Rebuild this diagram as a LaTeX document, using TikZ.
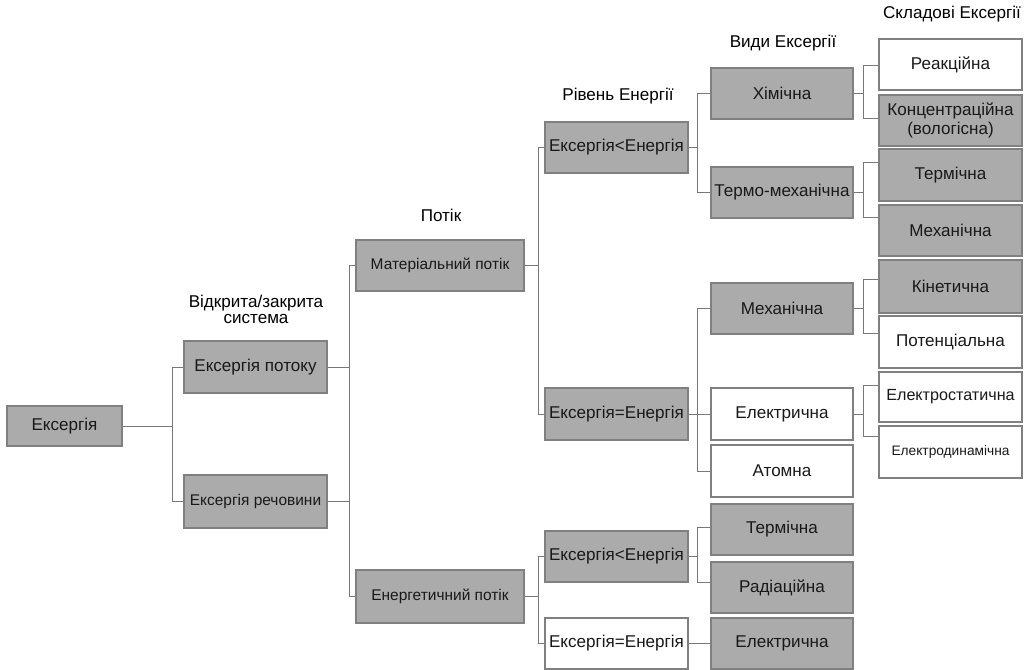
\documentclass[tikz,border=0pt]{standalone}
\usepackage{fontspec}
\setmainfont{Liberation Sans}
\definecolor{boxgrey}{RGB}{171,171,171}
\definecolor{edgegrey}{RGB}{128,128,128}
\definecolor{linegrey}{RGB}{120,120,120}
\tikzset{
  base/.style={draw=edgegrey, line width=0.9pt, inner sep=0pt, align=center, font=\fontsize{12.8pt}{14.3pt}\selectfont, text=black!90},
  gbox/.style={base, fill=boxgrey},
  wbox/.style={base, fill=white},
  small/.style={font=\fontsize{11.6pt}{13.5pt}\selectfont},
  mid/.style={font=\fontsize{12.1pt}{13.5pt}\selectfont},
  tiny/.style={font=\fontsize{10.3pt}{12pt}\selectfont},
  head/.style={align=center, font=\fontsize{12.8pt}{12pt}\selectfont, inner sep=0pt},
  conn/.style={draw=linegrey, line width=0.7pt}
}
\newcommand\mkbox[6]{\node[#1,minimum width={(#4-#2)*0.75pt},minimum height={(#5-#3)*0.75pt}] (#6) at ({(#2+#4)/2},{(#3+#5)/2+1})}
\begin{document}
\begin{tikzpicture}[x=0.75pt,y=-0.75pt]
\useasboundingbox (0,0) rectangle (1032,670);
% column 0/1
\mkbox{gbox}{7}{405}{122}{445}{ex} {Ексергія};
\mkbox{gbox}{184}{340}{327}{392}{ep} {Ексергія потоку};
\mkbox{gbox,small}{184}{474}{327}{527}{er} {Ексергія речовини};
% column 2
\mkbox{gbox,small}{356}{239}{524}{290}{mp} {Матеріальний потік};
\mkbox{gbox,small}{356}{569}{524}{622}{enp} {Енергетичний потік};
% column 3
\mkbox{gbox}{545}{121}{688}{172}{l1} {Ексергія<Енергія};
\mkbox{gbox}{545}{387}{688}{439}{e1} {Ексергія=Енергія};
\mkbox{gbox}{545}{530}{688}{581}{l2} {Ексергія<Енергія};
\mkbox{wbox}{545}{617}{688}{668}{e2} {Ексергія=Енергія};
% column 4
\mkbox{gbox}{711}{67}{853}{118}{him} {Хімічна};
\mkbox{gbox}{711}{166}{853}{217}{tm} {Термо-механічна};
\mkbox{gbox}{711}{282}{853}{333}{meh} {Механічна};
\mkbox{wbox}{711}{387}{853}{439}{el} {Електрична};
\mkbox{wbox}{711}{444}{853}{496}{at} {Атомна};
\mkbox{gbox}{711}{503}{853}{554}{ter2} {Термічна};
\mkbox{gbox}{711}{561}{853}{612}{rad} {Радіаційна};
\mkbox{gbox}{711}{617}{853}{668}{el2} {Електрична};
% column 5
\mkbox{wbox}{879}{38}{1022}{89}{rea} {Реакційна};
\mkbox{gbox}{879}{94}{1022}{145}{kon} {Концентраційна\\(вологісна)};
\mkbox{gbox}{879}{148}{1022}{200}{ter} {Термічна};
\mkbox{gbox}{879}{204}{1022}{255}{mex} {Механічна};
\mkbox{gbox}{879}{259}{1022}{312}{kin} {Кінетична};
\mkbox{wbox}{879}{315}{1022}{367}{pot} {Потенціальна};
\mkbox{wbox,mid}{879}{371}{1022}{421}{est} {Електростатична};
\mkbox{wbox,tiny}{879}{425}{1022}{477}{edn} {Електродинамічна};
% headings
\node[head] (h1) at (256,309) {Відкрита/закрита\\система};
\node[head] (h2) at (441,215) {Потік};
\node[head] (h3) at (618,96) {Рівень Енергії};
\node[head] (h4) at (783,43) {Види Ексергії};
\node[head] (h5) at (952,14) {Складові Ексергії};
% junction coordinates
\coordinate (j1) at (172,0);
\coordinate (j2) at (349,0);
\coordinate (j3) at (538,0);
\coordinate (j4) at (697,0);
\coordinate (j5) at (863,0);
\coordinate (y65) at (0,65);
\coordinate (y118) at (0,118);
\coordinate (y162) at (0,162);
\coordinate (y217) at (0,217);
\coordinate (y279) at (0,279);
\coordinate (y333) at (0,333);
\coordinate (y385) at (0,385);
\coordinate (y436) at (0,436);
\coordinate (y527) at (0,527);
\coordinate (y582) at (0,582);
% connectors
\draw[conn] (ex.east) -- (ex.east -| j1) |- (ep.west);
\draw[conn] (ex.east -| j1) |- (er.west);
\draw[conn] (ep.east) -- (ep.east -| j2) |- (mp.west);
\draw[conn] (ep.east -| j2) |- (enp.west);
\draw[conn] (er.east) -- (er.east -| j2);
\draw[conn] (mp.east) -- (mp.east -| j3) |- (l1.west);
\draw[conn] (mp.east -| j3) |- (e1.west);
\draw[conn] (enp.east) -- (enp.east -| j3) |- (l2.west);
\draw[conn] (enp.east -| j3) |- (e2.west);
\draw[conn] (l1.east) -- (l1.east -| j4) |- (him.west);
\draw[conn] (l1.east -| j4) |- (tm.west);
\draw[conn] (e1.east) -- (e1.east -| j4) |- (meh.west);
\draw[conn] (e1.east -| j4) |- (at.west);
\draw[conn] (e1.east -| j4) -- (el.west);
\draw[conn] (l2.east) -- (l2.east -| j4) |- (ter2.west |- y527);
\draw[conn] (l2.east -| j4) |- (rad.west |- y582);
\draw[conn] (e2.east) -- (el2.west);
\draw[conn] (him.east) -- (him.east -| j5) |- (rea.west |- y65);
\draw[conn] (him.east -| j5) |- (kon.west |- y118);
\draw[conn] (tm.east) -- (tm.east -| j5) |- (ter.west |- y162);
\draw[conn] (tm.east -| j5) |- (mex.west |- y217);
\draw[conn] (meh.east) -- (meh.east -| j5) |- (kin.west |- y279);
\draw[conn] (meh.east -| j5) |- (pot.west |- y333);
\draw[conn] (el.east) -- (el.east -| j5) |- (est.west |- y385);
\draw[conn] (el.east -| j5) |- (edn.west |- y436);
\end{tikzpicture}
\end{document}
